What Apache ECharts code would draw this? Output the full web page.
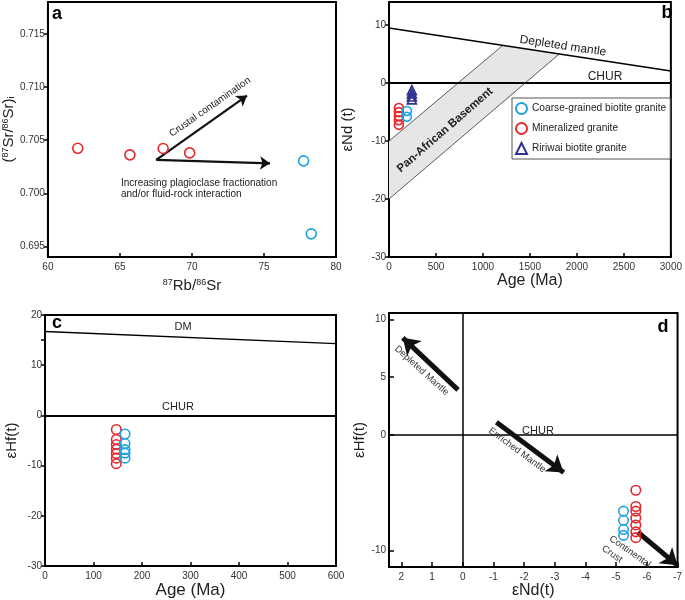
<!DOCTYPE html>
<html><head><meta charset="utf-8">
<script src="https://cdn.jsdelivr.net/npm/echarts@6/dist/echarts.min.js"></script>
<style>html,body{margin:0;padding:0;background:#fff}#c{width:685px;height:600px}</style>
</head><body><div id="c"></div>
<script>
// ================= DATA =================
// Panel a : 87Rb/86Sr vs (87Sr/86Sr)i
const aMinRbSr = [62.07, 65.69, 68.0, 69.84];
const aMinSr   = [0.70423, 0.70361, 0.70421, 0.70380];
const aCoaRbSr = [77.75, 78.28];
const aCoaSr   = [0.70305, 0.69618];
const aArrowOrigin  = [67.52, 0.70314];
const aArrowCrustal = [73.82, 0.70919];
const aArrowPlag    = [75.42, 0.70282];
const aYTicks = [0.695, 0.700, 0.705, 0.710, 0.715];

// Panel b : Age vs eNd(t)
const bMinAge = [105, 105, 105, 105, 105];
const bMinNd  = [-4.3, -5.0, -5.7, -6.4, -7.2];
const bCoaAge = [190, 190];
const bCoaNd  = [-4.8, -5.8];
const bRirAge = [243, 243, 243, 243];
const bRirNd  = [-1.2, -1.8, -2.3, -2.8];
const bDepletedMantle = [[0, 9.5], [3000, 2.1]];
const bBasementBand = [[0, -10], [1210, 6.5], [1810, 5.0], [0, -20]];
const bBandUpperEdge = [[0, -10], [1210, 6.5]];
const bBandLowerEdge = [[0, -20], [1810, 5.0]];
const bYTicks = [-30, -20, -10, 0, 10];

// Panel c : Age vs eHf(t)
const cMinAge = [147, 147, 147, 147, 147, 147, 147];
const cMinHf  = [-2.8, -4.8, -5.8, -6.7, -7.6, -8.5, -9.6];
const cCoaAge = [165, 165, 165, 165, 165];
const cCoaHf  = [-3.7, -5.6, -6.8, -7.5, -8.5];
const cDM = [[0, 16.7], [600, 14.3]];
const cYTicks = [-30, -20, -10, 0, 10, 15, 20];
const cYLabels = [-30, -20, -10, 0, 10, 20];

// Panel d : eNd(t) vs eHf(t)
const dMinNd = [-5.64, -5.64, -5.64, -5.64, -5.64, -5.64, -5.64];
const dMinHf = [-4.8, -6.2, -6.6, -7.2, -7.8, -8.4, -8.9];
const dCoaNd = [-5.24, -5.24, -5.24, -5.24];
const dCoaHf = [-6.6, -7.4, -8.2, -8.7];
const dArrowDepleted = [[0.15, 3.9], [1.95, 8.4]];
const dArrowEnriched = [[-1.1, 1.1], [-3.29, -3.25]];
const dArrowCrust    = [[-5.71, -8.43], [-7.0, -11.3]];
const dXTicks = [2, 1, 0, -1, -2, -3, -4, -5, -6, -7];
const dYTicks = [-10, 0, 5, 10];

// ================= CHART =================
const F = '"Liberation Sans", Arial, Helvetica, sans-serif';
const RED = '#e8282b', BLUE = '#1fa3e0', PURPLE = '#2e3192';
const N_COA = 'Coarse-grained biotite granite', N_MIN = 'Mineralized granite', N_RIR = 'Ririwai biotite granite';
const zip = (xs, ys) => xs.map((x, i) => [x, ys[i]]);
const plain = v => String(v);

const chart = echarts.init(document.getElementById('c'), null, {renderer: 'canvas'});

const lbl = {fontSize: 10, color: '#333', fontFamily: F};
const rich = {
  sup: {fontSize: 9, verticalAlign: 'top', fontFamily: F, color: '#222'},
  sub: {fontSize: 9, verticalAlign: 'bottom', fontFamily: F, color: '#222'}
};
function ax(o) {
  return Object.assign({
    type: 'value',
    splitLine: {show: false},
    axisLine: {onZero: false, lineStyle: {color: '#000', width: 2}},
    axisTick: {inside: true, length: 4, lineStyle: {color: '#000', width: 1.5}},
    axisLabel: Object.assign({margin: 5, formatter: plain}, lbl),
    nameLocation: 'middle',
    nameTextStyle: {fontSize: 16, color: '#222', fontFamily: F, rich: rich}
  }, o);
}
function scat(name, xi, data, color, size, symbol) {
  return {
    type: 'scatter', name: name, xAxisIndex: xi, yAxisIndex: xi, data: data,
    symbol: symbol || 'circle', symbolSize: size,
    itemStyle: {color: 'rgba(0,0,0,0)', borderColor: color, borderWidth: 1.6, opacity: 1},
    z: 10, silent: true
  };
}
function seg(xi, data, width, color) {
  return {type: 'line', xAxisIndex: xi, yAxisIndex: xi, data: data, symbol: 'none',
    lineStyle: {color: color || '#000', width: width}, z: 4, silent: true};
}
function arrows(xi, segs, width, size) {
  return {type: 'lines', coordinateSystem: 'cartesian2d', xAxisIndex: xi, yAxisIndex: xi,
    symbol: ['none', 'arrow'], symbolSize: size,
    lineStyle: {color: '#111', width: width, opacity: 1, curveness: 0},
    data: segs.map(s => ({coords: s})), z: 6, silent: true};
}
const gridStyle = {show: true, borderColor: '#000', borderWidth: 2, backgroundColor: 'rgba(0,0,0,0)'};

const option = {
  animation: false,
  backgroundColor: '#fff',
  grid: [
    Object.assign({left: 45, top: 2, width: 291, height: 255}, gridStyle),
    Object.assign({left: 389, top: 2, width: 289, height: 255}, gridStyle),
    Object.assign({left: 45, top: 315, width: 291, height: 254}, gridStyle),
    Object.assign({left: 389, top: 313, width: 289, height: 255}, gridStyle)
  ],
  xAxis: [
    ax({gridIndex: 0, min: 60, max: 80, interval: 5,
        name: '{sup|87}Rb/{sup|86}Sr', nameGap: 21,
        nameTextStyle: {fontSize: 15, color: '#222', fontFamily: F, rich: rich}}),
    ax({gridIndex: 1, min: 0, max: 3000, interval: 500, name: 'Age (Ma)', nameGap: 13}),
    ax({gridIndex: 2, min: 0, max: 600, interval: 100, name: 'Age (Ma)', nameGap: 15,
        nameTextStyle: {fontSize: 17, color: '#222', fontFamily: F}}),
    ax({gridIndex: 3, min: -7, max: 2.4, inverse: true, name: 'εNd(t)', nameGap: 11,
        axisLabel: Object.assign({margin: 5, customValues: dXTicks, formatter: plain}, lbl),
        axisTick: {inside: true, length: 5, customValues: dXTicks, lineStyle: {color: '#000', width: 1.5}}})
  ],
  yAxis: [
    ax({gridIndex: 0, min: 0.694, max: 0.718,
        axisLabel: Object.assign({margin: 3, customValues: aYTicks, formatter: v => v.toFixed(3)}, lbl),
        axisTick: {inside: false, length: 4, customValues: aYTicks, lineStyle: {color: '#000', width: 1.5}},
        name: '({sup|87}Sr/{sup|86}Sr){sub|i}', nameGap: 31,
        nameTextStyle: {fontSize: 15, color: '#222', fontFamily: F, rich: rich}}),
    ax({gridIndex: 1, min: -30, max: 14,
        axisLabel: Object.assign({margin: 3, customValues: bYTicks, formatter: plain}, lbl),
        axisTick: {inside: false, length: 4, customValues: bYTicks, lineStyle: {color: '#000', width: 1.5}},
        name: 'εNd (t)', nameGap: 34, nameTextStyle: {fontSize: 15, color: '#222', fontFamily: F}}),
    ax({gridIndex: 2, min: -30, max: 20,
        axisLabel: Object.assign({margin: 3, customValues: cYLabels, formatter: plain}, lbl),
        axisTick: {inside: false, length: 4, customValues: cYTicks, lineStyle: {color: '#000', width: 1.5}},
        name: 'εHf(t)', nameGap: 26, nameTextStyle: {fontSize: 15, color: '#222', fontFamily: F}}),
    ax({gridIndex: 3, min: -11.45, max: 10.55,
        axisLabel: Object.assign({margin: 3, customValues: dYTicks, formatter: plain}, lbl),
        axisTick: {inside: true, length: 5, customValues: dYTicks, lineStyle: {color: '#000', width: 1.5}},
        name: 'εHf(t)', nameGap: 17, nameTextStyle: {fontSize: 15, color: '#222', fontFamily: F}})
  ],
  legend: {
    orient: 'vertical', left: 512, top: 98,
    itemWidth: 11, itemHeight: 11, itemGap: 7,
    padding: [4, 4, 4, 3],
    borderColor: '#555', borderWidth: 1, backgroundColor: '#fff',
    textStyle: {fontSize: 10.2, color: '#222', fontFamily: F},
    data: [{name: N_COA, icon: 'circle'}, {name: N_MIN, icon: 'circle'}, {name: N_RIR, icon: 'triangle'}],
    selectedMode: false
  },
  series: [
    // ---- a ----
    arrows(0, [[aArrowOrigin, aArrowCrustal], [aArrowOrigin, aArrowPlag]], 2.2, 10),
    scat(N_MIN, 0, zip(aMinRbSr, aMinSr), RED, 10),
    scat(N_COA, 0, zip(aCoaRbSr, aCoaSr), BLUE, 10),
    // ---- b ----
    {type: 'custom', xAxisIndex: 1, yAxisIndex: 1, data: [0], z: 1, silent: true,
     renderItem: function (params, api) {
       return {type: 'polygon', shape: {points: bBasementBand.map(p => api.coord(p))},
               style: {fill: '#e6e6e6', stroke: 'none'}};
     }},
    seg(1, bBandUpperEdge, 0.8, '#333'),
    seg(1, bBandLowerEdge, 0.8, '#333'),
    Object.assign(seg(1, bDepletedMantle, 1.5), {
      markLine: {symbol: 'none', silent: true, label: {show: false},
                 lineStyle: {color: '#000', width: 2, type: 'solid'}, data: [{yAxis: 0}]}}),
    scat(N_MIN, 1, zip(bMinAge, bMinNd), RED, 9),
    scat(N_COA, 1, zip(bCoaAge, bCoaNd), BLUE, 9),
    scat(N_RIR, 1, zip(bRirAge, bRirNd), PURPLE, 9, 'triangle'),
    // ---- c ----
    Object.assign(seg(2, cDM, 1.5), {
      markLine: {symbol: 'none', silent: true, label: {show: false},
                 lineStyle: {color: '#000', width: 2, type: 'solid'}, data: [{yAxis: 0}]}}),
    scat(N_MIN, 2, zip(cMinAge, cMinHf), RED, 9.5),
    scat(N_COA, 2, zip(cCoaAge, cCoaHf), BLUE, 9.5),
    // ---- d ----
    Object.assign(arrows(3, [dArrowDepleted, dArrowEnriched, dArrowCrust], 5, 16), {
      markLine: {symbol: 'none', silent: true, label: {show: false},
                 lineStyle: {color: '#000', width: 1.5, type: 'solid'}, data: [{yAxis: 0}, {xAxis: 0}]}}),
    scat(N_MIN, 3, zip(dMinNd, dMinHf), RED, 9.5),
    scat(N_COA, 3, zip(dCoaNd, dCoaHf), BLUE, 9.5)
  ]
};
chart.setOption(option);

function t(text, x, y, o) {
  o = o || {};
  return {type: 'text', x: x, y: y, rotation: (o.rot || 0) * Math.PI / 180, z: 20, silent: true,
    style: {text: text, fill: o.color || '#222', align: o.align || 'center', verticalAlign: 'middle',
            font: (o.weight || 'normal') + ' ' + (o.size || 11) + 'px ' + F}};
}
chart.setOption({graphic: [
  t('a', 57, 14, {size: 18, weight: 'bold', color: '#000'}),
  t('Crustal contamination', 210, 107, {rot: 35, size: 10}),
  t('Increasing plagioclase fractionation', 121, 183, {align: 'left', size: 10}),
  t('and/or fluid-rock interaction', 121, 194.5, {align: 'left', size: 10}),
  t('b', 667, 13, {size: 18, weight: 'bold', color: '#000'}),
  t('Depleted mantle', 563, 46, {rot: -8.5, size: 12}),
  t('CHUR', 605, 77, {size: 12}),
  t('Pan-African Basement', 445, 130, {rot: 41, size: 11.5, weight: 'bold'}),
  t('c', 57, 323, {size: 18, weight: 'bold', color: '#000'}),
  t('DM', 183, 327, {size: 11}),
  t('CHUR', 178, 407, {size: 11}),
  t('d', 663, 327, {size: 18, weight: 'bold', color: '#000'}),
  t('Depleted Mantle', 421.7, 370.7, {rot: -42, size: 9.5, color: '#333'}),
  t('CHUR', 538, 431, {size: 11}),
  t('Enriched Mantle', 517, 450, {rot: -36.6, size: 9.5, color: '#333'}),
  t('Continental', 630, 551.7, {rot: -35, size: 9.5, color: '#333'}),
  t('Crust', 612, 554, {rot: -35, size: 9.5, color: '#333'})
]});
</script></body></html>
